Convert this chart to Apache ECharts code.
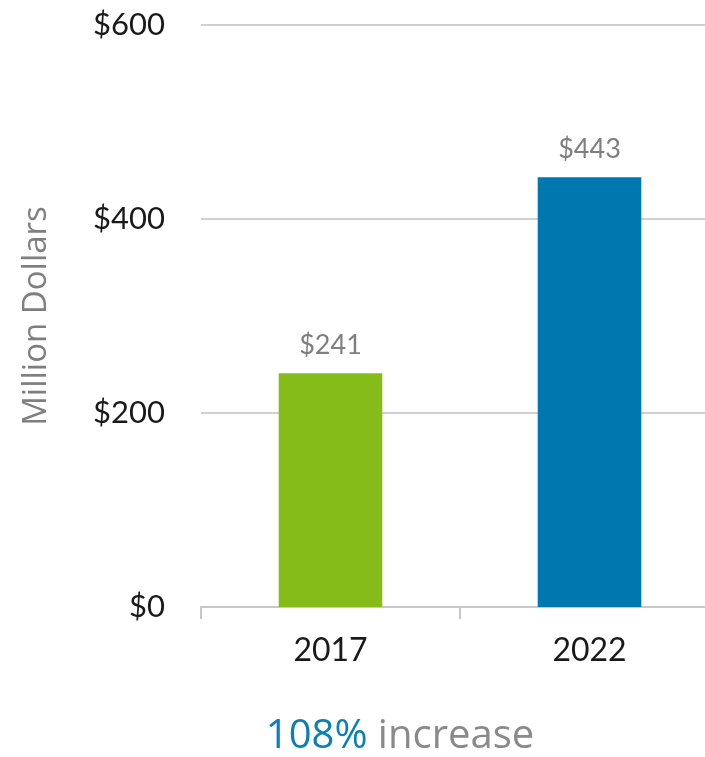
<!DOCTYPE html>
<html>
<head>
<meta charset="utf-8">
<script src="https://cdn.jsdelivr.net/npm/echarts@6/dist/echarts.min.js"></script>
<style>
html,body{margin:0;padding:0;background:#fff;overflow:hidden;width:705px;height:757px;}
#chart{width:720px;height:757px;}
</style>
</head>
<body>
<div id="chart"></div>
<script>
var categories = ['2017', '2022'];
var values = [241, 443];
var barColors = ['#86BC19', '#0077AE'];
var yTicks = [0, 200, 400, 600];
var yAxisName = 'Million Dollars';
var increasePct = '108%';
var increaseWord = 'increase';

var FONT = 'Lato, "Open Sans", sans-serif';
var chart = echarts.init(document.getElementById('chart'), null, {renderer: 'canvas'});
chart.setOption({
  animation: false,
  grid: {left: 201, right: 1, top: 25, bottom: 150, containLabel: false, outerBoundsMode: 'none'},
  xAxis: {
    type: 'category',
    data: categories,
    axisLine: {show: true, lineStyle: {color: '#c8c8c8', width: 2}},
    axisTick: {show: true, length: 12, lineStyle: {color: '#c8c8c8', width: 2}},
    axisLabel: {color: '#1a1a1a', fontSize: 32, fontFamily: FONT, margin: 28}
  },
  yAxis: {
    type: 'value',
    min: yTicks[0],
    max: yTicks[yTicks.length - 1],
    interval: yTicks[1] - yTicks[0],
    name: yAxisName,
    nameLocation: 'middle',
    nameGap: 148,
    nameTextStyle: {color: '#7f7f7f', fontSize: 33, fontFamily: '"Open Sans", "Noto Sans", sans-serif'},
    axisLine: {show: false},
    axisTick: {show: false},
    splitLine: {lineStyle: {color: '#d0d0d0', width: 2}},
    axisLabel: {color: '#1a1a1a', fontSize: 31, fontFamily: FONT, margin: 36,
      formatter: function (v) { return '$' + v; }}
  },
  series: [{
    type: 'bar',
    barWidth: '40%',
    data: values.map(function (v, i) { return {value: v, itemStyle: {color: barColors[i]}}; }),
    label: {show: true, position: 'top', distance: 14, color: '#7f7f7f', fontSize: 27, fontFamily: FONT,
      formatter: function (p) { return '$' + p.value; }}
  }],
  graphic: [{
    type: 'text',
    x: 400,
    y: 737,
    style: {
      text: '{a|' + increasePct + '}{b| ' + increaseWord + '}',
      align: 'center',
      verticalAlign: 'middle',
      rich: {
        a: {fill: '#0a7fb8', fontSize: 40, fontFamily: '"Open Sans", sans-serif'},
        b: {fill: '#8a8a8a', fontSize: 40, fontFamily: '"Open Sans", sans-serif'}
      }
    }
  }]
});
</script>
</body>
</html>
